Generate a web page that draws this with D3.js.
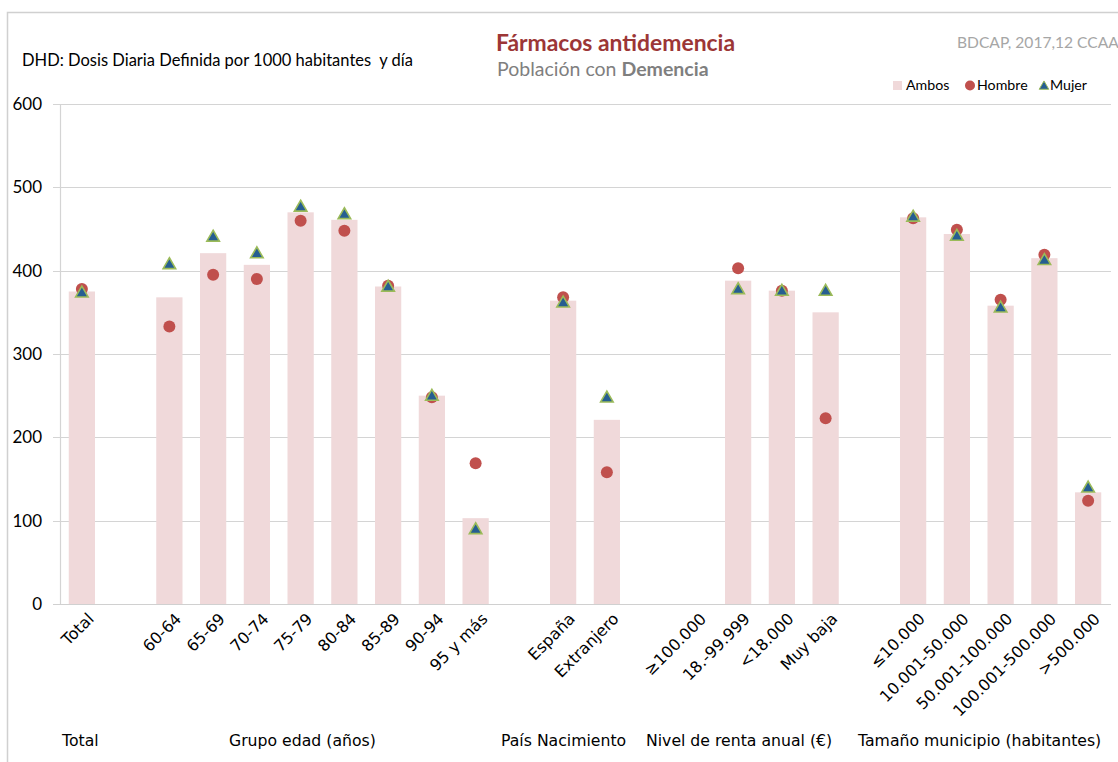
<!DOCTYPE html>
<html><head><meta charset="utf-8">
<script src="https://cdn.jsdelivr.net/npm/d3@7"></script>
<style>body{margin:0;background:#fff}svg{display:block}</style>
</head><body>
<script>
const categories = ["Total","", "60-64","65-69","70-74","75-79","80-84","85-89","90-94","95 y más","", "España","Extranjero","", "≥100.000","18.-99.999","<18.000","Muy baja","", "≤10.000","10.001-50.000","50.001-100.000","100.001-500.000",">500.000"];
const ambos  = [375,null,368,421,407,470,461,381,250,103,null,364,221,null,null,388,376,350,null,464,444,358,415,134];
const hombre = [378,null,333,395,390,460,448,382,248,169,null,368,158,null,null,403,376,223,null,463,449,365,419,124];
const mujer  = [374,null,408,441,421,477,468,381,250,90,null,362,248,null,null,378,376,376,null,465,442,356,413,140];
const yTicks = [0,100,200,300,400,500,600];
const groupLabels = ["Total","Grupo edad (años)","País Nacimiento","Nivel de renta anual (€)","Tamaño municipio (habitantes)"];
const groupX = [62,229,501,646,858];

const W=1118,H=762;
const svg=d3.select("body").append("svg").attr("width",W).attr("height",H);
const x=d3.scaleBand().domain(d3.range(categories.length)).range([60,1110]).paddingInner(0.4).paddingOuter(0.2);
const y=d3.scaleLinear().domain([0,600]).range([604,104]);
const cx=i=>x(i)+x.bandwidth()/2;

// frame
svg.append("path").attr("d","M7.5,762 V12.5 H1118").attr("fill","none").attr("stroke","#d0d0d0").attr("stroke-width",1.5);

// gridlines
svg.append("g").selectAll("line").data(yTicks).join("line")
  .attr("x1",53).attr("x2",1111).attr("y1",d=>Math.round(y(d))+0.5).attr("y2",d=>Math.round(y(d))+0.5)
  .attr("stroke",d=>d===0?"#d0d0d0":"#d4d4d4").attr("stroke-width",1.2);
svg.append("line").attr("x1",60.5).attr("x2",60.5).attr("y1",104).attr("y2",604).attr("stroke","#d4d4d4").attr("stroke-width",1.2);
svg.append("g").selectAll("text").data(yTicks).join("text")
  .attr("x",42).attr("y",d=>y(d)).attr("dy","0.35em").attr("text-anchor","end")
  .attr("font-family","Lato, sans-serif").attr("font-size",17).attr("fill","#000").text(d=>d);

// bars
const idx=d3.range(categories.length);
svg.append("g").selectAll("rect").data(idx.filter(i=>ambos[i]!=null)).join("rect")
  .attr("x",i=>x(i)).attr("width",x.bandwidth()).attr("y",i=>y(ambos[i])).attr("height",i=>y(0)-y(ambos[i]))
  .attr("fill","#f0d9da");

// hombre
svg.append("g").selectAll("circle").data(idx.filter(i=>hombre[i]!=null)).join("circle")
  .attr("cx",cx).attr("cy",i=>y(hombre[i])).attr("r",6).attr("fill","#c0504d");

// mujer
const tri=d3.symbol().type(d3.symbolTriangle).size(68);
svg.append("g").selectAll("path").data(idx.filter(i=>mujer[i]!=null)).join("path")
  .attr("d",tri).attr("transform",i=>`translate(${cx(i)},${y(mujer[i])+1})`)
  .attr("fill","#265e91").attr("stroke","#9bbb59").attr("stroke-width",1.6);

// category labels
svg.append("g").selectAll("text").data(idx.filter(i=>categories[i]!=="")).join("text")
  .attr("transform",i=>`translate(${cx(i)+5},${612}) rotate(-45)`)
  .attr("text-anchor","end").attr("dy","0.7em")
  .attr("font-family","DejaVu Sans, sans-serif").attr("font-size",16).attr("fill","#000")
  .text(i=>categories[i]);

// group labels
svg.append("g").selectAll("text").data(groupLabels).join("text")
  .attr("x",(d,i)=>groupX[i]).attr("y",746)
  .attr("font-family","DejaVu Sans, sans-serif").attr("font-size",15.7).attr("fill","#000").text(d=>d);

// titles
svg.append("text").attr("x",22).attr("y",66).attr("font-family","Lato, sans-serif").attr("font-size",16.5).attr("fill","#000")
  .attr("xml:space","preserve").text("DHD: Dosis Diaria Definida por 1000 habitantes  y día");
svg.append("text").attr("x",496).attr("y",51).attr("font-family","Lato, sans-serif").attr("font-weight","bold").attr("font-size",22.9).attr("fill","#9c3636").text("Fármacos antidemencia");
const sub=svg.append("text").attr("x",497).attr("y",76).attr("font-family","Lato, sans-serif").attr("font-size",19.5).attr("fill","#7f7f7f");
sub.append("tspan").text("Población con ");
sub.append("tspan").attr("font-weight","bold").text("Demencia");
svg.append("text").attr("x",957).attr("y",48).attr("font-family","Lato, sans-serif").attr("font-size",15.6).attr("fill","#a6a6a6").text("BDCAP, 2017,12 CCAA");

// legend
const lg=svg.append("g").attr("font-family","Lato, sans-serif").attr("font-size",14.2).attr("fill","#000");
lg.append("rect").attr("x",893).attr("y",81).attr("width",9).attr("height",9).attr("fill","#f0d9da");
lg.append("text").attr("x",906).attr("y",90).text("Ambos");
lg.append("circle").attr("cx",970).attr("cy",85.5).attr("r",5).attr("fill","#c0504d");
lg.append("text").attr("x",977).attr("y",90).text("Hombre");
lg.append("path").attr("d",d3.symbol().type(d3.symbolTriangle).size(40)).attr("transform","translate(1044,86.5)").attr("fill","#265e91").attr("stroke","#9bbb59").attr("stroke-width",1);
lg.append("text").attr("x",1050).attr("y",90).text("Mujer");
</script>
</body></html>
